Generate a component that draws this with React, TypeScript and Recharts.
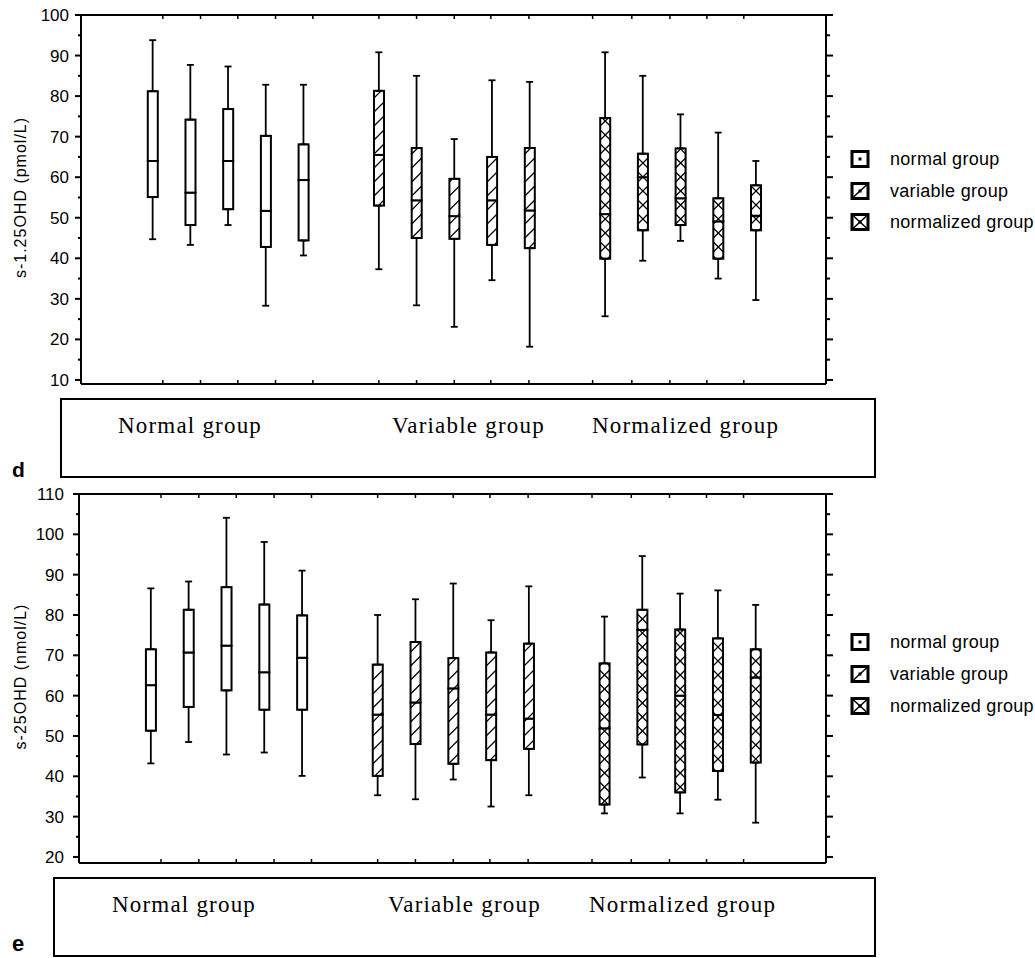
import { Bar, ComposedChart, ErrorBar, Label, Scatter, XAxis, YAxis } from 'recharts';

const SANS = '"Liberation Sans", Arial, Helvetica, sans-serif';
const SERIF = '"Liberation Serif", "Times New Roman", serif';

// box positions on the x axis (two empty slots between groups)
const slots = [2, 3, 4, 5, 6, 8, 9, 10, 11, 12, 14, 15, 16, 17, 18];
const groupOf = [
  'normal', 'normal', 'normal', 'normal', 'normal',
  'variable', 'variable', 'variable', 'variable', 'variable',
  'normalized', 'normalized', 'normalized', 'normalized', 'normalized',
];
// tick marks on the frame sit a little off the boxes in the original
const xTicks = [2.27, 3.27, 4.26, 5.26, 6.25, 8, 9, 10, 10.97, 11.98, 13.67, 14.71, 15.72, 16.7, 17.68];
const groupLabels = ['Normal group', 'Variable group', 'Normalized group'];
const legendLabels = ['normal group', 'variable group', 'normalized group'];

// panel d : s-1.25OHD (pmol/L)
const dTicks = [10, 15, 20, 25, 30, 35, 40, 45, 50, 55, 60, 65, 70, 75, 80, 85, 90, 95, 100];
const dMin = [44.7, 43.3, 48.2, 28.3, 40.7, 37.3, 28.4, 23.1, 34.6, 18.2, 25.7, 39.4, 44.3, 35.0, 29.7];
const dQ1 = [55.1, 48.2, 52.1, 42.8, 44.4, 53.0, 45.0, 44.8, 43.3, 42.5, 39.9, 46.9, 48.2, 39.9, 46.9];
const dMed = [64.0, 56.2, 64.0, 51.7, 59.3, 65.5, 54.3, 50.4, 54.3, 51.8, 50.9, 60.0, 54.8, 49.1, 50.5];
const dQ3 = [81.2, 74.2, 76.8, 70.2, 68.1, 81.3, 67.2, 59.6, 65.0, 67.2, 74.6, 65.8, 67.1, 54.8, 58.0];
const dMax = [93.8, 87.7, 87.3, 82.8, 82.8, 90.8, 85.0, 69.4, 83.9, 83.5, 90.8, 85.0, 75.5, 71.0, 64.0];

// panel e : s-25OHD (nmol/L)
const eTicks = [20, 25, 30, 35, 40, 45, 50, 55, 60, 65, 70, 75, 80, 85, 90, 95, 100, 105, 110];
const eMin = [43.2, 48.5, 45.4, 45.9, 40.1, 35.3, 34.3, 39.2, 32.5, 35.3, 30.8, 39.7, 30.8, 34.2, 28.5];
const eQ1 = [51.3, 57.2, 61.3, 56.5, 56.5, 40.1, 48.0, 43.1, 44.0, 46.8, 33.0, 47.9, 36.0, 41.3, 43.4];
const eMed = [62.6, 70.7, 72.4, 65.8, 69.4, 55.3, 58.3, 61.8, 55.3, 54.3, 51.9, 76.3, 60.0, 55.2, 64.5];
const eQ3 = [71.5, 81.3, 86.9, 82.6, 79.9, 67.7, 73.3, 69.3, 70.7, 72.9, 68.0, 81.3, 76.4, 74.2, 71.5];
const eMax = [86.6, 88.3, 104.1, 98.1, 91.0, 80.0, 83.9, 87.8, 78.7, 87.1, 79.6, 94.6, 85.3, 86.1, 82.5];

function buildRows(min: number[], q1: number[], med: number[], q3: number[], max: number[]) {
  return slots.map((x, i) => ({
    x,
    group: groupOf[i],
    q1: q1[i],
    q3: q3[i],
    base: q1[i],
    lower: med[i] - q1[i],
    upper: q3[i] - med[i],
    lowWhisker: [q1[i] - min[i], 0],
    highWhisker: [0, max[i] - q3[i]],
  }));
}

const NoDot = () => <g />;

function HatchedBox(props: any) {
  const { x, y, width, height, payload } = props;
  if (x == null || y == null || !width) return null;
  const top = Math.min(y, y + height);
  const h = Math.abs(height);
  const w = width;
  const group = payload?.group;
  const step = 14;
  const segs: Array<[number, number, number, number]> = [];

  if (group === 'variable' || group === 'normalized') {
    const start = Math.floor(top / step) * step;
    for (let b = start; b <= top + h + w + step; b += step) {
      // "/" line : (x + t, b - t)
      const t0 = Math.max(0, b - top - h);
      const t1 = Math.min(w, b - top);
      if (t1 > t0) segs.push([x + t0, b - t0, x + t1, b - t1]);
      if (group === 'normalized') {
        // "\" line : (x + t, b - w + t)
        const s0 = Math.max(0, top - (b - w));
        const s1 = Math.min(w, top + h - (b - w));
        if (s1 > s0) segs.push([x + s0, b - w + s0, x + s1, b - w + s1]);
      }
    }
  }

  return (
    <g>
      <rect x={x} y={top} width={w} height={h} fill="#fff" />
      {segs.map((s, i) => (
        <line key={i} x1={s[0]} y1={s[1]} x2={s[2]} y2={s[3]} stroke="#000" strokeWidth={1.2} />
      ))}
      <rect x={x} y={top} width={w} height={h} fill="none" stroke="#000" strokeWidth={2} />
    </g>
  );
}

function LeftTick({ x, y, payload, gap }: any) {
  const major = payload.value % 10 === 0;
  return (
    <g>
      <line x1={x - (major ? 6 : 3)} x2={x} y1={y} y2={y} stroke="#000" strokeWidth={2} />
      {major ? (
        <text x={x - gap} y={y + 6} textAnchor="end" fontFamily={SANS} fontSize={17} fill="#000">
          {payload.value}
        </text>
      ) : null}
    </g>
  );
}

function RightTick({ x, y, payload }: any) {
  const major = payload.value % 10 === 0;
  return <line x1={x} x2={x + (major ? 7 : 4)} y1={y} y2={y} stroke="#000" strokeWidth={2} />;
}

function BottomTick({ x, y }: any) {
  return <line x1={x} x2={x} y1={y} y2={y - 4} stroke="#000" strokeWidth={1.5} />;
}

function TopTick({ x, y }: any) {
  return <line x1={x} x2={x} y1={y} y2={y + 4} stroke="#000" strokeWidth={1.5} />;
}

interface PanelProps {
  top: number;
  rows: ReturnType<typeof buildRows>;
  ticks: number[];
  domain: [number, number];
  axisWidth: number;
  labelGap: number;
  margin: { top: number; right: number; bottom: number; left: number };
  title: string;
}

function BoxPanel({ top, rows, ticks, domain, axisWidth, labelGap, margin, title }: PanelProps) {
  const axisLine = { stroke: '#000', strokeWidth: 2 };
  return (
    <div style={{ position: 'absolute', left: 0, top, width: 1035, height: 400 }}>
      <ComposedChart width={1035} height={400} data={rows} margin={margin}>
        <XAxis
          xAxisId="bottom"
          dataKey="x"
          type="number"
          domain={[0.1, 19.86]}
          ticks={xTicks}
          interval={0}
          height={1}
          tickSize={0}
          tickMargin={0}
          tickLine={false}
          axisLine={axisLine}
          tick={(p: any) => <BottomTick {...p} />}
          allowDataOverflow
        />
        <XAxis
          xAxisId="top"
          orientation="top"
          dataKey="x"
          type="number"
          domain={[0.1, 19.86]}
          ticks={xTicks}
          interval={0}
          height={1}
          tickSize={0}
          tickMargin={0}
          tickLine={false}
          axisLine={axisLine}
          tick={(p: any) => <TopTick {...p} />}
          allowDataOverflow
        />
        <YAxis
          yAxisId="left"
          type="number"
          domain={domain}
          ticks={ticks}
          interval={0}
          width={axisWidth}
          tickSize={0}
          tickMargin={0}
          tickLine={false}
          axisLine={axisLine}
          tick={(p: any) => <LeftTick {...p} gap={labelGap} />}
          allowDataOverflow
        >
          <Label
            content={({ viewBox }: any) => {
              const cx = viewBox.x + 20;
              const cy = viewBox.y + viewBox.height / 2 - 2;
              return (
                <text
                  x={cx}
                  y={cy}
                  transform={`rotate(-90, ${cx}, ${cy})`}
                  textAnchor="middle"
                  dominantBaseline="central"
                  fontFamily={SANS}
                  fontSize={16}
                  letterSpacing={1}
                  fill="#000"
                >
                  {title}
                </text>
              );
            }}
          />
        </YAxis>
        <YAxis
          yAxisId="right"
          orientation="right"
          type="number"
          domain={domain}
          ticks={ticks}
          interval={0}
          width={12}
          tickSize={0}
          tickMargin={0}
          tickLine={false}
          axisLine={axisLine}
          tick={(p: any) => <RightTick {...p} />}
          allowDataOverflow
        />
        <Scatter xAxisId="bottom" yAxisId="left" dataKey="q1" shape={NoDot} isAnimationActive={false}>
          <ErrorBar
            dataKey="lowWhisker"
            direction="y"
            width={3.5}
            stroke="#000"
            strokeWidth={1.8}
            isAnimationActive={false}
          />
        </Scatter>
        <Scatter xAxisId="bottom" yAxisId="left" dataKey="q3" shape={NoDot} isAnimationActive={false}>
          <ErrorBar
            dataKey="highWhisker"
            direction="y"
            width={3.5}
            stroke="#000"
            strokeWidth={1.8}
            isAnimationActive={false}
          />
        </Scatter>
        <Bar xAxisId="bottom" yAxisId="left" dataKey="base" stackId="box" barSize={10} shape={NoDot} isAnimationActive={false} />
        <Bar xAxisId="bottom" yAxisId="left" dataKey="lower" stackId="box" barSize={10} shape={HatchedBox} isAnimationActive={false} />
        <Bar xAxisId="bottom" yAxisId="left" dataKey="upper" stackId="box" barSize={10} shape={HatchedBox} isAnimationActive={false} />
      </ComposedChart>
    </div>
  );
}

function LegendIcon({ x, cy, kind }: { x: number; cy: number; kind: number }) {
  const l = x + 1.5;
  const r = x + 14.5;
  const t = cy - 6;
  const b = cy + 6;
  return (
    <g>
      <rect x={x} y={cy - 7.5} width={16} height={15} fill="#fff" stroke="#000" strokeWidth={3} />
      {kind >= 1 ? <line x1={l} y1={b} x2={r} y2={t} stroke="#000" strokeWidth={1.5} /> : null}
      {kind === 2 ? <line x1={l} y1={t} x2={r} y2={b} stroke="#000" strokeWidth={1.5} /> : null}
      <rect x={x + 6.5} y={cy - 1.5} width={3} height={3} fill="#000" />
    </g>
  );
}

function Legend({ rowsY }: { rowsY: number[] }) {
  return (
    <g>
      {legendLabels.map((label, i) => (
        <g key={label}>
          <LegendIcon x={852} cy={rowsY[i]} kind={i} />
          <text x={890} y={rowsY[i] + 6} fontFamily={SANS} fontSize={18} letterSpacing={0.3} fill="#000">
            {label}
          </text>
        </g>
      ))}
    </g>
  );
}

function GroupBox({ x, y, w, h, textX, baseline }: { x: number; y: number; w: number; h: number; textX: number[]; baseline: number }) {
  return (
    <g>
      <rect x={x} y={y} width={w} height={h} fill="#fff" stroke="#000" strokeWidth={2} />
      {groupLabels.map((label, i) => (
        <text key={label} x={textX[i]} y={baseline} fontFamily={SERIF} fontSize={23} letterSpacing={1.2} fill="#000">
          {label}
        </text>
      ))}
    </g>
  );
}

export default function App() {
  const dRows = buildRows(dMin, dQ1, dMed, dQ3, dMax);
  const eRows = buildRows(eMin, eQ1, eMed, eQ3, eMax);

  return (
    <div style={{ position: 'absolute', left: 0, top: 0, width: 1035, height: 958, background: '#fff', overflow: 'hidden' }}>
      <BoxPanel
        top={0}
        rows={dRows}
        ticks={dTicks}
        domain={[9, 100]}
        axisWidth={81}
        labelGap={12}
        margin={{ top: 14, right: 197, bottom: 15, left: 0 }}
        title="s-1.25OHD (pmol/L)"
      />
      <BoxPanel
        top={470}
        rows={eRows}
        ticks={eTicks}
        domain={[18.5, 110]}
        axisWidth={79}
        labelGap={15}
        margin={{ top: 23, right: 197, bottom: 6, left: 0 }}
        title="s-25OHD (nmol/L)"
      />
      <svg
        width={1035}
        height={958}
        style={{ position: 'absolute', left: 0, top: 0, pointerEvents: 'none' }}
      >
        <Legend rowsY={[159, 191, 222]} />
        <Legend rowsY={[642, 674, 706]} />
        <GroupBox x={61} y={399} w={814} h={78} textX={[118, 392, 592]} baseline={433} />
        <GroupBox x={54} y={878} w={821} h={78} textX={[112, 388, 589]} baseline={912} />
        <text x={12} y={477} fontFamily={SANS} fontWeight="bold" fontSize={21} fill="#000">d</text>
        <text x={12} y={951} fontFamily={SANS} fontWeight="bold" fontSize={22} fill="#000">e</text>
      </svg>
    </div>
  );
}
